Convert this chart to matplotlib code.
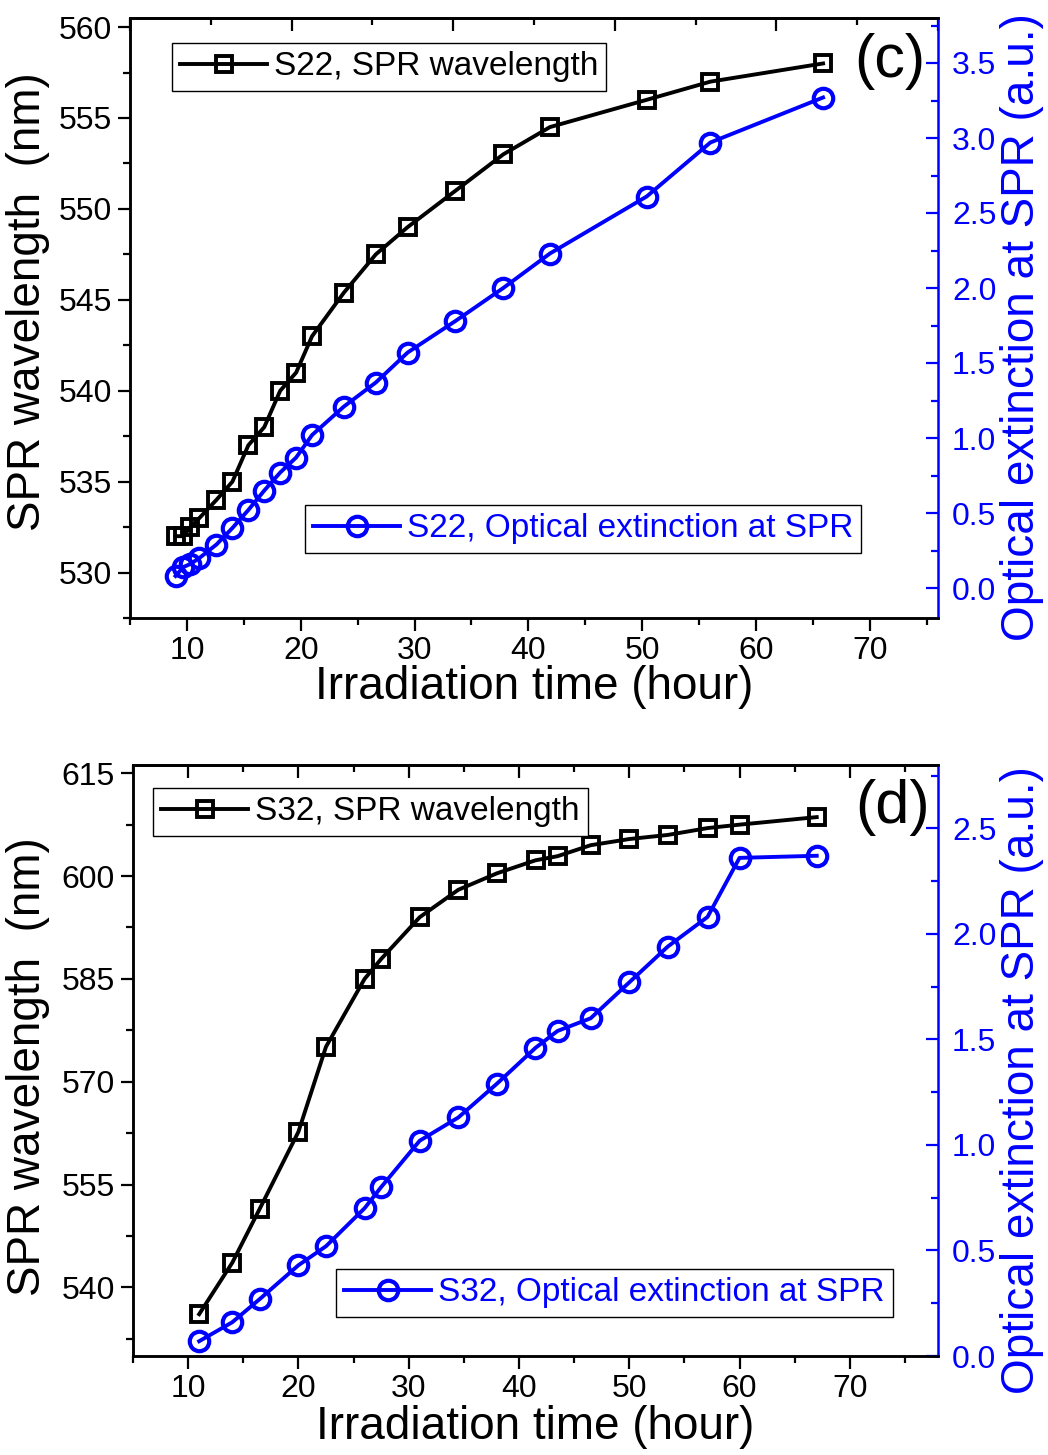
import matplotlib.pyplot as plt
from matplotlib.ticker import MultipleLocator

plt.rcParams['font.family'] = ['Liberation Sans', 'DejaVu Sans']

# panel (c): sample S22
t_c = [9.0, 9.7, 10.3, 11.1, 12.6, 14.0, 15.4, 16.8, 18.2, 19.6, 21.0,
       23.8, 26.6, 29.4, 33.6, 37.8, 41.9, 50.4, 56.0, 65.9]
spr_c = [532.0, 532.0, 532.5, 533.0, 534.0, 535.0, 537.0, 538.0, 540.0, 541.0, 543.0,
         545.4, 547.5, 549.0, 551.0, 553.0, 554.5, 556.0, 557.0, 558.0]
ext_c = [0.08, 0.14, 0.16, 0.20, 0.29, 0.40, 0.52, 0.65, 0.77, 0.87, 1.02,
         1.21, 1.37, 1.57, 1.78, 2.00, 2.23, 2.61, 2.97, 3.27]

# panel (d): sample S32
t_d = [11.0, 14.0, 16.5, 20.0, 22.5, 26.0, 27.5, 31.0, 34.5, 38.0, 41.5,
       43.5, 46.5, 50.0, 53.5, 57.1, 60.0, 67.0]
spr_d = [536.1, 543.6, 551.5, 562.7, 575.1, 585.0, 587.9, 594.0, 598.0, 600.4, 602.3,
         602.9, 604.5, 605.4, 606.0, 607.0, 607.5, 608.6]
ext_d = [0.07, 0.16, 0.27, 0.43, 0.52, 0.70, 0.80, 1.02, 1.13, 1.29, 1.46,
         1.54, 1.60, 1.77, 1.94, 2.08, 2.36, 2.37]

W, H = 1048, 1455
fig = plt.figure(figsize=(W / 100, H / 100), dpi=100)

TICK_FS = 23
LAB_FS = 33
LEG_FS = 24
BLUE = '#0000ff'


def panel(rect, t, spr, ext, name, xlim, ylim_l, ylim_r, lstep, top_funcs, top_steps,
          leg1, leg2, tag, tagpos, lab_l, lab_r):
    ax = fig.add_axes(rect)
    ax2 = ax.twinx()

    l1, = ax.plot(t, spr, '-s', color='k', lw=2.8, ms=11, mew=2.8, mfc='none',
                  label=name + ', SPR wavelength')
    l2, = ax2.plot(t, ext, '-o', color=BLUE, lw=2.8, ms=14, mew=3.0, mfc='none',
                   label=name + ', Optical extinction at SPR')

    ax.set_xlim(*xlim)
    ax.set_ylim(*ylim_l)
    ax2.set_ylim(*ylim_r)

    ax.xaxis.set_major_locator(MultipleLocator(10))
    ax.xaxis.set_minor_locator(MultipleLocator(5))
    ax.yaxis.set_major_locator(MultipleLocator(lstep))
    ax.yaxis.set_minor_locator(MultipleLocator(lstep / 2))
    ax2.yaxis.set_major_locator(MultipleLocator(0.5))
    ax2.yaxis.set_minor_locator(MultipleLocator(0.25))
    ax2.yaxis.set_major_formatter(lambda v, p: '%.1f' % v)

    ax.tick_params(which='major', direction='out', length=9, width=1.6,
                   labelsize=TICK_FS, pad=4, top=False, right=False)
    ax.tick_params(which='minor', direction='out', length=5, width=1.6,
                   top=False, right=False)
    ax2.tick_params(which='major', direction='in', length=9, width=1.6,
                    colors=BLUE, labelsize=TICK_FS, pad=10)
    ax2.tick_params(which='minor', direction='in', length=5, width=1.6, colors=BLUE)

    sec = ax.secondary_xaxis('top', functions=top_funcs)
    sec.xaxis.set_major_locator(MultipleLocator(top_steps[0]))
    sec.xaxis.set_minor_locator(MultipleLocator(top_steps[1]))
    sec.tick_params(which='major', direction='in', length=9, width=1.6, labeltop=False)
    sec.tick_params(which='minor', direction='in', length=5, width=1.6)

    for a in (ax, ax2):
        for s in a.spines.values():
            s.set_linewidth(1.8)
    sec.spines['top'].set_linewidth(1.8)
    ax.spines['right'].set_visible(False)
    ax2.spines['right'].set_color(BLUE)

    ax.set_xlabel('Irradiation time (hour)', fontsize=LAB_FS)
    ax.xaxis.set_label_coords(0.5, lab_l[2])
    ax.set_ylabel('SPR wavelength  (nm)', fontsize=LAB_FS)
    ax.yaxis.set_label_coords(lab_l[0], lab_l[1])
    ax2.set_ylabel('Optical extinction at SPR (a.u.)', fontsize=LAB_FS, color=BLUE)
    ax2.yaxis.set_label_coords(lab_r[0], lab_r[1])

    common = dict(loc='upper left', bbox_transform=fig.transFigure, fontsize=LEG_FS,
                  fancybox=False, borderpad=0.25, borderaxespad=0, handlelength=2.6,
                  handletextpad=0.2, framealpha=1)
    lg1 = ax2.legend(handles=[l1], bbox_to_anchor=leg1, **common)
    lg1.get_frame().set_edgecolor('k')
    lg1.get_frame().set_linewidth(1.0)
    ax2.add_artist(lg1)
    lg2 = ax2.legend(handles=[l2], bbox_to_anchor=leg2, **common)
    lg2.get_frame().set_edgecolor('k')
    lg2.get_frame().set_linewidth(1.0)
    for txt in lg2.get_texts():
        txt.set_color(BLUE)

    fig.text(tagpos[0], tagpos[1], tag, fontsize=44, ha='center', va='center')
    return ax


# top panel (c)
panel([130 / W, 1 - 618 / H, 808 / W, 600 / H], t_c, spr_c, ext_c, 'S22',
      (5, 76), (527.5, 560.5), (-0.2, 3.8), 5,
      (lambda x: (x - 5) / 71 * 100, lambda u: 5 + u * 71 / 100), (20, 10),
      (172 / W, 1 - 43 / H), (305 / W, 1 - 505 / H),
      '(c)', (890 / W, 1 - 62 / H), (-0.099, 0.527, -0.078), (1.077, 0.485))

# bottom panel (d)
panel([133 / W, 1 - 1356 / H, 805 / W, 591 / H], t_d, spr_d, ext_d, 'S32',
      (5, 78), (530, 616.2), (0.0, 2.8), 15,
      (lambda x: x, lambda x: x), (10, 5),
      (153 / W, 1 - 788 / H), (336 / W, 1 - 1269 / H),
      '(d)', (893 / W, 1 - 808 / H), (-0.103, 0.489, -0.083), (1.077, 0.467))

fig.savefig('out.png', dpi=100)
